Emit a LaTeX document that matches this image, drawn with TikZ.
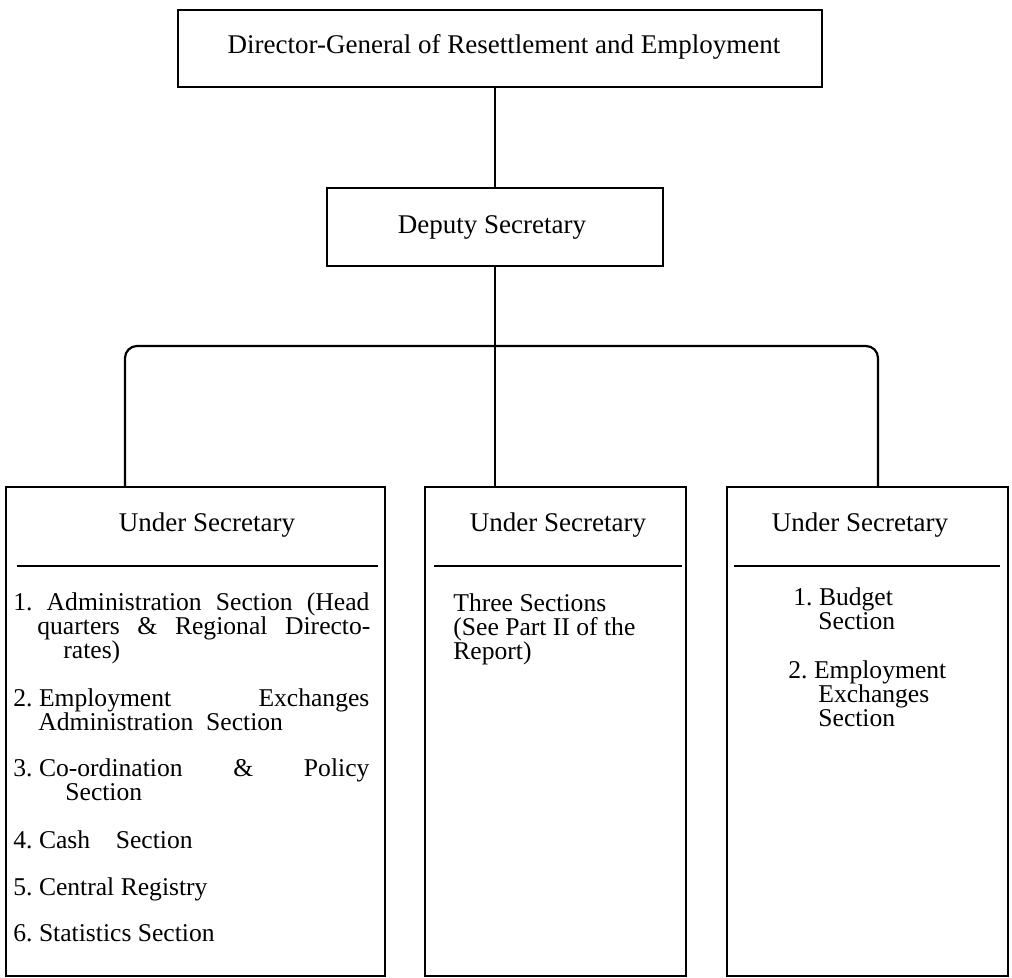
\documentclass[tikz,border=0pt]{standalone}
\usepackage{fontspec}
\setmainfont{Liberation Serif}

\begin{document}
\begin{tikzpicture}
[x=0.5pt,y=-0.5pt,
  boxDecorate/.style={shape=rectangle,draw,line width=1.1pt,inner sep=0pt},%
  lineDecorate/.style={-,line width=1.1pt},%
  headDecorate/.style={anchor=base,inner sep=0pt,font=\fontsize{13.5}{16}\selectfont},%
  textDecorate/.style={anchor=north west,inner sep=0pt,align=left,
    font={\fontsize{12.8}{12}\selectfont\lineskiplimit=-20pt\relax}}]
\useasboundingbox (0,0) rectangle (1012,978);
%% boxes
\foreach \nodename/\x/\y/\w/\h in {
  dg/500/48.5/322/38.5, dep/495/227/168/39,
  us1/195.5/731.5/189.5/244.5, us2/555.5/731.5/130.5/244.5,
  us3/867.5/731.5/140.5/244.5}
{
  \node (\nodename) at (\x,\y) [boxDecorate,minimum width={\w pt},minimum height={\h pt}] {};
}
%% titles
\node (dgtext) at (504,54) [headDecorate] {Director-General of Resettlement and Employment};
\node (deptext) at (492,234) [headDecorate] {Deputy Secretary};
\foreach \nodename/\x in {h1/207, h2/558, h3/860}
{
  \node (\nodename) at (\x,531) [headDecorate] {Under Secretary};
}
%% dividers under the heads
\foreach \l/\r in {17/378, 434/682, 734/1000}
{
  \draw[lineDecorate] (\l,566) -- (\r,566);
}
%% sections
\foreach \nodename/\x/\y/\txt in {
  a/13/591/{\makebox[178pt][s]{1.\ Administration Section (Head}\\
    \hspace*{12pt}\makebox[166.5pt][s]{quarters \& Regional Directo-}\\
    \hspace*{25pt}rates)},
  b/13/687/{\makebox[178pt][l]{2.\ Employment\hfill Exchanges}\\
    \hspace*{12.5pt}Administration\ \ Section},
  c/13/757/{\makebox[178pt][l]{3.\ Co-ordination\hfill\&\hfill Policy}\\
    \hspace*{26pt}Section},
  d/13/829/{4.\ Cash\quad Section},
  e/13/876/{5.\ Central Registry},
  f/13/922/{6.\ Statistics Section},
  m/453/592/{Three Sections\\(See Part II of the\\Report)},
  r/793/586/{1.\ Budget\\\hspace*{12.5pt}Section},
  s/788/659/{2.\ Employment\\\hspace*{15pt}Exchanges\\\hspace*{15pt}Section}}
{
  \node (\nodename) at (\x,\y) [textDecorate] {\rule{0pt}{9.5pt}\txt};
}
%% lines
\coordinate (busL) at (125,346);
\coordinate (busR) at (878,346);
\draw[lineDecorate] (dep.north |- dg.south) -- (dep.north);
\draw[lineDecorate] (dep.south) -- (us2.north -| dep.south);
\draw[lineDecorate,rounded corners=6pt] (us1.north -| busL) -- (busL) -- (busR) -- (us3.north -| busR);
\end{tikzpicture}
\end{document}
